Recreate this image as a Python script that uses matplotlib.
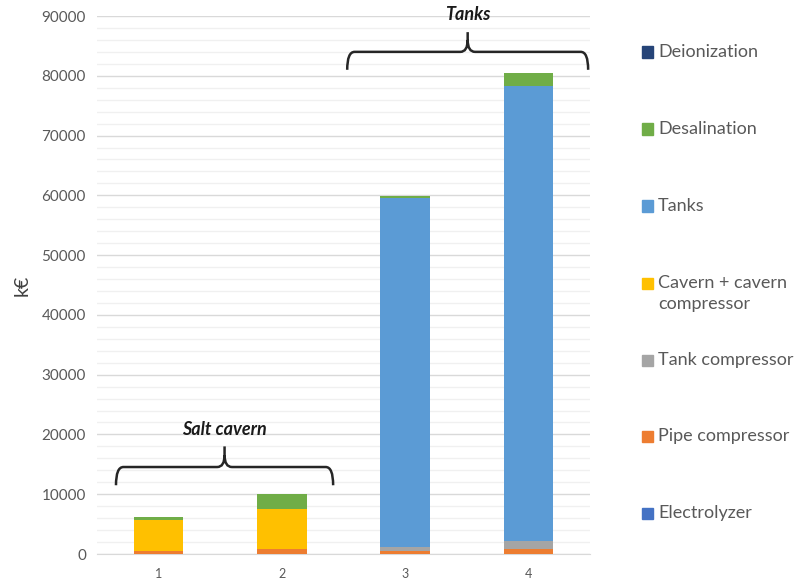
import numpy as np
import matplotlib
matplotlib.use("Agg")
import matplotlib.pyplot as plt
from matplotlib.path import Path
from matplotlib.patches import PathPatch, Rectangle

plt.rcParams['font.family'] = ['Lato', 'DejaVu Sans']

categories = ["1", "2", "3", "4"]
series_names = ["Electrolyzer", "Pipe compressor", "Tank compressor",
                "Cavern + cavern\ncompressor", "Tanks", "Desalination", "Deionization"]
electrolyzer = [20, 20, 20, 20]
pipe_compressor = [500, 800, 450, 850]
tank_compressor = [0, 0, 750, 1250]
cavern = [5200, 6750, 0, 0]
tanks = [0, 0, 58300, 76100]
desalination = [450, 2450, 400, 2250]
deionization = [10, 10, 10, 10]
colors = ["#4472C4", "#ED7D31", "#A5A5A5", "#FFC000", "#5B9BD5", "#70AD47", "#264478"]

values = [electrolyzer, pipe_compressor, tank_compressor, cavern, tanks, desalination, deionization]

fig = plt.figure(figsize=(7.94, 5.85), dpi=100)
W, H = 794, 585
ax = fig.add_axes([97 / W, 31 / H, 493 / W, 538 / H])

x = np.arange(len(categories))
bottom = np.zeros(len(categories))
for vals, c in zip(values, colors):
    ax.bar(x, vals, width=0.4, bottom=bottom, color=c, zorder=3)
    bottom += np.array(vals)

ax.set_xlim(-0.5, 3.5)
ax.set_ylim(0, 90000)
ax.set_yticks(np.arange(0, 90001, 10000))
ax.set_yticks(np.arange(0, 90001, 2000), minor=True)
ax.grid(axis='y', which='major', color='#D9D9D9', lw=1, zorder=0)
ax.grid(axis='y', which='minor', color='#F0F0F0', lw=1, zorder=0)
ax.set_xticks(x)
ax.set_xticklabels(categories)
for s in ['top', 'right', 'left']:
    ax.spines[s].set_visible(False)
ax.spines['bottom'].set_color('#D9D9D9')
ax.tick_params(axis='y', which='both', length=0, labelsize=11, labelcolor='#595959', pad=8)
ax.tick_params(axis='x', length=0, labelsize=9, labelcolor='#595959', pad=10)
ax.set_ylabel("k€", fontsize=14, color='#404040', labelpad=8)


def brace(ax, x0, x1, y0, yh, ytip, r=0.06, rv=2000):
    xm = (x0 + x1) / 2
    verts = [(x0, y0), (x0, yh), (x0 + r, yh),
             (xm - r, yh), (xm, yh), (xm, yh + rv), (xm, ytip),
             (xm, yh + rv), (xm, yh), (xm + r, yh),
             (x1 - r, yh), (x1, yh), (x1, y0)]
    codes = [Path.MOVETO, Path.CURVE3, Path.CURVE3,
             Path.LINETO, Path.CURVE3, Path.CURVE3, Path.LINETO,
             Path.MOVETO, Path.CURVE3, Path.CURVE3,
             Path.LINETO, Path.CURVE3, Path.CURVE3]
    ax.add_patch(PathPatch(Path(verts, codes), fill=False, lw=1.8,
                           edgecolor='#262626', clip_on=False, zorder=5))


brace(ax, -0.346, 1.416, 11500, 14550, 18000)
ax.text(0.535, 20900, "Salt cavern", ha='center', va='center', fontsize=13,
        fontweight='bold', fontstyle='italic', color='#1a1a1a', zorder=6)
brace(ax, 1.53, 3.485, 81000, 84000, 87300)
ax.text(2.51, 90200, "Tanks", ha='center', va='center', fontsize=13,
        fontweight='bold', fontstyle='italic', color='#1a1a1a', zorder=6, clip_on=False)

# legend, top entry first
legend_y = [52, 129, 206, 283, 360, 436, 513]
for name, c, yc in zip(series_names[::-1], colors[::-1], legend_y):
    fig.patches.append(Rectangle((642 / W, 1 - (yc + 5.5) / H), 11 / W, 11 / H,
                                 transform=fig.transFigure, color=c))
    fig.text(658 / W, 1 - (yc - 8) / H, name, ha='left', va='top', fontsize=13,
             color='#595959', linespacing=1.35)

fig.savefig("out.png", dpi=100)
